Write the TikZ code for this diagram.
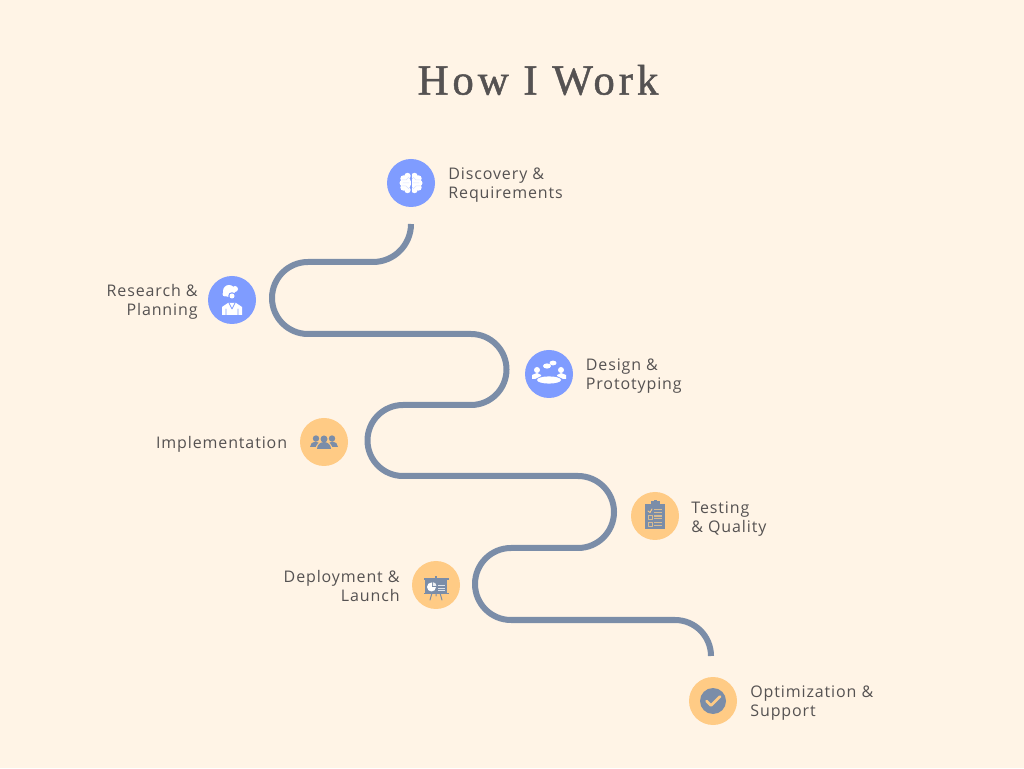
\documentclass[tikz,border=0pt]{standalone}
\usepackage{fontspec}
\setmainfont{Open Sans}
\newfontfamily\titlefont[LetterSpace=9,FakeBold=1.1]{Liberation Serif}
\newfontfamily\labelfont[LetterSpace=5.5]{Open Sans}
\usetikzlibrary{positioning}
\definecolor{paper}{HTML}{FFF4E6}
\definecolor{road}{HTML}{7B8DA8}
\definecolor{bluedot}{HTML}{7F9CFF}
\definecolor{orangedot}{HTML}{FFCB85}
\definecolor{ink}{HTML}{555252}
\definecolor{rowtan}{HTML}{D8BC92}
\tikzset{
  stepblue/.style={circle, fill=bluedot, minimum size=48pt, inner sep=0pt},
  steporange/.style={circle, fill=orangedot, minimum size=48pt, inner sep=0pt},
  steplabel/.style={font=\labelfont\fontsize{16}{19.6}\selectfont, text=ink, inner sep=0pt, yshift=-2pt},
}
\begin{document}
\begin{tikzpicture}[x=1pt, y=1pt, line join=round, line cap=round]
\useasboundingbox (0,0) rectangle (1024,768);
\fill[paper] (0,0) rectangle (1024,768);
% Title
\node[font=\titlefont\fontsize{43}{43}\selectfont, text=ink, inner sep=0pt] (title) at (538,688) {How I Work};
% Winding road
\coordinate (start) at (411,544);
\coordinate (stop) at (711,112);
\draw[road, line width=6pt, line cap=butt] (start)
  arc[start angle=0, end angle=-90, radius=38] -- (308,506)
  arc[start angle=90, end angle=270, radius=36] -- (471,434)
  arc[start angle=90, end angle=-90, radius=35.5] -- (403,363)
  arc[start angle=90, end angle=270, radius=35.5] -- (578,292)
  arc[start angle=90, end angle=-90, radius=36] -- (511,220)
  arc[start angle=90, end angle=270, radius=36] -- (675,148)
  arc[start angle=90, end angle=0, radius=36] -- (stop);
% Step circles
\node[stepblue] (discovery) at (411,585) {};
\node[stepblue] (research) at (232,468) {};
\node[stepblue] (design) at (549,394) {};
\node[steporange] (implementation) at (324,326) {};
\node[steporange] (testing) at (655,252) {};
\node[steporange] (deployment) at (436,183) {};
\node[steporange] (optimization) at (713,67) {};
% Step labels
\node[steplabel, align=left, right=13pt of discovery] (discoverytext) {Discovery \&\\Requirements};
\node[steplabel, align=right, left=10pt of research] (researchtext) {Research \&\\Planning};
\node[steplabel, align=left, right=12.5pt of design] (designtext) {Design \&\\Prototyping};
\node[steplabel, left=12.5pt of implementation] (implementationtext) {Implementation};
\node[steplabel, align=left, right=12pt of testing, yshift=-1pt] (testingtext) {Testing\\\& Quality};
\node[steplabel, align=right, left=12pt of deployment, yshift=1pt] (deploymenttext) {Deployment \&\\Launch};
\node[steplabel, align=left, right=13pt of optimization] (optimizationtext) {Optimization \&\\Support};
% Brain icon
\begin{scope}[shift={(discovery)}]
\foreach \s in {-1,1} {
  \fill[white] (\s*3.5,7) circle(3.2) (\s*7.5,4.5) circle(3.2) (\s*8.5,0) circle(3) (\s*7.5,-4.5) circle(3.2) (\s*3.5,-7) circle(3.2) (\s*5,0) circle(5.5);
  \draw[white!70!bluedot, line width=0.5pt] (\s*2,6) -- (\s*5,3) -- (\s*9,3) (\s*2,0) -- (\s*8,0) (\s*2,-6) -- (\s*5,-3) -- (\s*9,-3);
}
\draw[bluedot, line width=0.7pt] (0,10) -- (0,-10);
\end{scope}
% Researcher icon
\begin{scope}[shift={(research)}]
\fill[white] (-3,9) circle(6) (-7,6) circle(2.5) (3,11) circle(3);
\fill[white] (-10,-15) -- (-10,-7) -- (-4,-3) -- (4,-3) -- (10,-7) -- (10,-15) -- cycle;
\fill[bluedot] (0,4) circle(3.8);
\fill[white] (0,4) circle(2.5);
\draw[bluedot, line width=0.8pt] (-3,-3) -- (0,-9) -- (3,-3) (-6,-15) -- (-6,-9) (6,-15) -- (6,-9);
\end{scope}
% Meeting icon
\begin{scope}[shift={(design)}]
\fill[white] (0,-6) ellipse[x radius=12, y radius=3.6];
\foreach \s in {-1,1} {
  \fill[white] (\s*12,4) circle(3);
  \fill[white] (\s*17,-5) -- (\s*17,-1) -- (\s*12,1) -- (\s*8,-1) -- (\s*8,-2) -- (\s*14,-5) -- cycle;
}
\fill[white] (-2,8) ellipse[x radius=4, y radius=2.6];
\fill[white] (4,11) ellipse[x radius=3.5, y radius=2.4];
\end{scope}
% People icon
\begin{scope}[shift={(implementation)}]
\fill[road] (-14,-5) arc[start angle=180, end angle=0, radius=5.5] -- cycle;
\fill[road] (3,-5) arc[start angle=180, end angle=0, radius=5.5] -- cycle;
\fill[orangedot] (0,-7.5) circle(8.5);
\fill[road] (-7,-7) arc[start angle=180, end angle=0, radius=7] -- cycle;
\fill[road] (-8,3.5) circle(3.2) (8,3.5) circle(3.2) (0,3) circle(3.5);
\end{scope}
% Clipboard icon
\begin{scope}[shift={(testing)}]
\fill[road] (-10,-13) rectangle (10,12);
\fill[road] (-4.5,12) rectangle (4.5,14.5);
\fill[road] (-1.5,14) rectangle (1.5,16);
\foreach \y in {5,-1.5,-8} {
  \fill[rowtan] (-1,\y+2) rectangle (7,\y+0.8);
  \fill[rowtan] (-1,\y-0.6) rectangle (7,\y-1.8);
}
\draw[orangedot, line width=0.9pt] (-7,5) -- (-5,3.5) -- (-3,7);
\draw[rowtan, line width=0.9pt] (-7,-3.5) rectangle (-3,0.5) (-7,-10) rectangle (-3,-6);
\end{scope}
% Presentation icon
\begin{scope}[shift={(deployment)}]
\draw[road, line width=1pt] (-4,-8) -- (-6,-15) (4,-8) -- (6,-15) (0,-8) -- (0,-11);
\fill[road] (-1,5) rectangle (1,8.5);
\fill[road] (-12.5,4.5) rectangle (12.5,6.5);
\fill[road] (-11,-8) rectangle (11,5);
\fill[road] (-12.5,-9.5) rectangle (12.5,-8);
\fill[white] (-4.5,-2) circle(4.5);
\fill[road] (-4.5,-2) -- (-4.5,3) -- (0.5,3) -- (0.5,-2) -- cycle;
\fill[white!85!road] (-3.2,-0.8) -- (-3.2,2.8) arc[start angle=90, end angle=0, radius=3.6] -- cycle;
\foreach \y in {-1.5,-4,-6.5} {
  \fill[white!75!road] (2,\y) rectangle (9,\y+1);
}
\end{scope}
% Check icon
\begin{scope}[shift={(optimization)}]
\fill[road] (0,0) circle(13);
\draw[orangedot, line width=2.8pt] (-6.5,0) -- (-2,-4.5) -- (7,4.5);
\end{scope}
\end{tikzpicture}
\end{document}
